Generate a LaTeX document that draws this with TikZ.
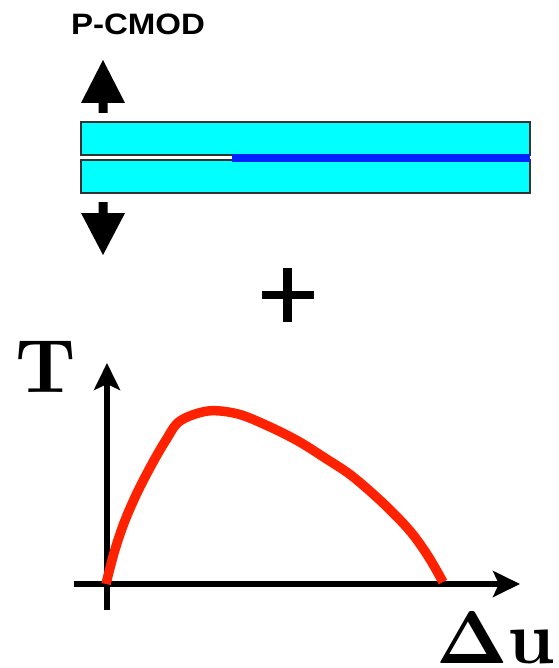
\documentclass[tikz,border=0pt]{standalone}
\usepackage[no-math]{fontspec}
\newfontfamily\arialfont{Liberation Sans}
\usetikzlibrary{arrows.meta}
\definecolor{beamcyan}{RGB}{0,255,255}
\definecolor{beamedge}{RGB}{50,50,50}
\definecolor{crackblue}{RGB}{0,34,255}
\definecolor{curvered}{RGB}{255,34,0}
\tikzset{
  beam/.style={fill=beamcyan, draw=beamedge, line width=2bp},
  bigarrow/.style={fill=black, draw=none},
  axis/.style={line width=5.5bp, -{Stealth[length=27bp,width=26bp,inset=6bp]}},
  plain/.style={inner sep=0pt, outer sep=0pt},
}
\begin{document}
\begin{tikzpicture}[x=1bp, y=-1bp]
\useasboundingbox (0,0) rectangle (559,668);
% label
\node[plain, anchor=base west] (title) at (71,35)
  {\scalebox{1.12}[1]{\arialfont\bfseries\fontsize{29.5bp}{32bp}\selectfont P-CMOD}};
% arrows
\fill[bigarrow] (103,60) -- (125,103) -- (107.5,103) -- (107.5,113) -- (98.5,113) -- (98.5,103) -- (81,103) -- cycle;
\fill[bigarrow] (103,255) -- (125,213) -- (107.5,213) -- (107.5,202) -- (98.5,202) -- (98.5,213) -- (81,213) -- cycle;
% beams
\draw[beam] (81,122) rectangle (530,155);
\draw[beam] (81,160) rectangle (530,193);
\draw[crackblue, line width=8bp] (232,158) -- (530,158);
% plus
\fill (262,291) rectangle (314,299);
\fill (283,268) rectangle (292,322);
% axes
\coordinate (ybot) at (107,610);
\coordinate (ytop) at (107,363);
\coordinate (xleft) at (74,584);
\coordinate (xright) at (520,584);
\draw[axis] (ybot) -- (ytop);
\draw[axis] (xleft) -- (xright);
% curve
\draw[curvered, line width=9.5bp, line join=round] plot[smooth, tension=0.55] coordinates {
 (106,584) (114,553) (124,523) (137,493) (152,464) (166,440) (180,421)
 (208,411) (238,414) (268,426) (298,441) (325,458) (352,476) (384,504)
 (410,531) (428,556) (443,582)};
% axis labels
\node[plain, anchor=base west] (tlabel) at (15,392) {\scalebox{7.6}{\bfseries T}};
\node[plain, anchor=base west] (dulabel) at (436,663) {\scalebox{7.5}{\bfseries$\mathbf{\Delta}$u}};
\end{tikzpicture}
\end{document}
